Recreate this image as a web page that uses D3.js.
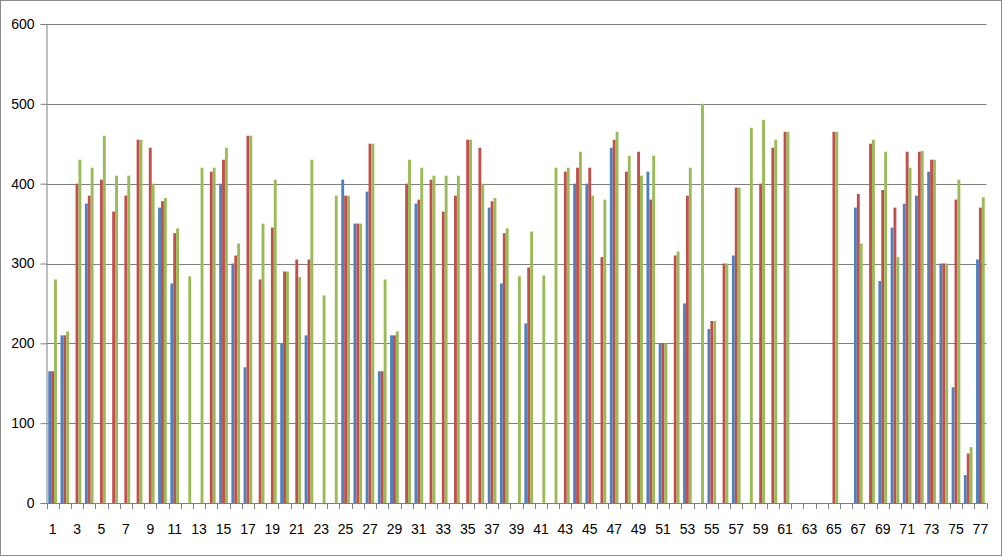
<!DOCTYPE html>
<html>
<head>
<meta charset="utf-8">
<script src="https://cdn.jsdelivr.net/npm/d3@7"></script>
<style>
  html, body { margin: 0; padding: 0; background: #fff; }
  svg { display: block; }
  .lbl { font-family: "Liberation Sans Narrow", "Arial Narrow", "Liberation Sans", sans-serif; font-size: 14px; fill: #000; }
</style>
</head>
<body>
<svg id="chart" width="1003" height="557"></svg>
<script>
// ---- data ----
const categories = d3.range(1, 78);
const seriesBlue = [165,210,null,375,null,null,null,null,null,370,275,null,null,null,400,300,170,null,null,200,
  null,210,null,null,405,350,390,165,210,null,375,null,null,null,null,null,370,275,null,225,
  null,null,null,400,400,null,445,null,null,415,200,null,250,null,218,null,310,null,null,null,
  null,null,null,null,null,null,370,null,278,345,375,385,415,300,145,35,305];
const seriesRed = [165,210,400,385,405,365,385,455,445,378,338,null,null,415,430,310,460,280,345,290,
  305,305,null,null,385,350,450,165,210,400,380,405,365,385,455,445,378,338,null,295,
  null,null,415,420,420,308,455,415,440,380,200,310,385,null,228,300,395,null,400,445,
  465,null,null,null,465,null,387,450,392,370,440,440,430,300,380,62,370];
const seriesGreen = [280,215,430,420,460,410,410,455,400,382,344,284,420,420,445,325,460,350,405,290,
  283,430,260,385,385,350,450,280,215,430,420,410,410,410,455,400,382,344,284,340,
  285,420,420,440,385,380,465,435,410,435,200,315,420,500,228,300,395,470,480,455,
  465,null,null,null,465,null,325,455,440,308,420,441,430,300,405,70,383];
const yTicks = [0, 100, 200, 300, 400, 500, 600];
const xLabels = categories.filter(c => c % 2 === 1);
const seriesNames = ["blue", "red", "green"];
const seriesColors = ["#4F81BD", "#C0504D", "#9BBB59"];
const seriesData = [seriesBlue, seriesRed, seriesGreen];

// ---- layout ----
const svg = d3.select("#chart");
const W = 1003, H = 557;
const pL = 46.5, pR = 986.5, pT = 24, pB = 503;

svg.append("rect").attr("x", 0.5).attr("y", 0.5).attr("width", W - 2).attr("height", H - 2)
  .attr("fill", "#fff").attr("stroke", "#8c8c8c").attr("stroke-width", 1);

const pad = 0.29;
const x = d3.scaleBand().domain(categories).range([pL, pR]).paddingInner(pad).paddingOuter(pad / 2);
const xs = d3.scaleBand().domain(seriesNames).range([0, x.bandwidth()]);
const y = d3.scaleLinear().domain([0, 600]).range([pB, pT]);

// gridlines
svg.append("g").selectAll("line").data(yTicks.filter(t => t > 0)).join("line")
  .attr("x1", pL).attr("x2", pR)
  .attr("y1", d => Math.round(y(d)) + 0.5).attr("y2", d => Math.round(y(d)) + 0.5)
  .attr("stroke", "#7f7f7f").attr("stroke-width", 1);

// bars
const bars = svg.append("g");
seriesData.forEach((arr, si) => {
  bars.append("g").selectAll("rect")
    .data(arr.map((v, i) => ({ c: categories[i], v })).filter(d => d.v != null))
    .join("rect")
    .attr("x", d => x(d.c) + xs(seriesNames[si]))
    .attr("width", xs.bandwidth())
    .attr("y", d => y(d.v))
    .attr("height", d => y(0) - y(d.v))
    .attr("fill", seriesColors[si]);
});

// y axis
const yAxis = d3.axisLeft(y).tickValues(yTicks).tickSize(6).tickPadding(6);
const gy = svg.append("g").attr("transform", `translate(${pL},0)`).call(yAxis);
gy.attr("font-size", null).attr("font-family", null);
gy.select(".domain").attr("stroke", "#7f7f7f");
gy.selectAll(".tick line").attr("stroke", "#7f7f7f");
gy.selectAll("text").attr("class", "lbl").attr("fill", "#000");

// x axis: labels at category centres, ticks at category boundaries
const xAxis = d3.axisBottom(x).tickValues(xLabels).tickSize(0).tickPadding(21);
const gx = svg.append("g").attr("transform", `translate(0,${pB})`).call(xAxis);
gx.attr("font-size", null).attr("font-family", null);
gx.select(".domain").attr("stroke", "#7f7f7f").attr("d", `M${pL},0.5H${pR}`);
gx.selectAll("text").attr("class", "lbl").attr("fill", "#000");
const step = x.step();
const bounds = d3.range(categories.length + 1).map(i => x(categories[0]) - step * pad / 2 + i * step);
svg.append("g").selectAll("line").data(bounds).join("line")
  .attr("x1", d => Math.round(d) + 0.5).attr("x2", d => Math.round(d) + 0.5)
  .attr("y1", pB).attr("y2", pB + 6)
  .attr("stroke", "#7f7f7f");
</script>
</body>
</html>
